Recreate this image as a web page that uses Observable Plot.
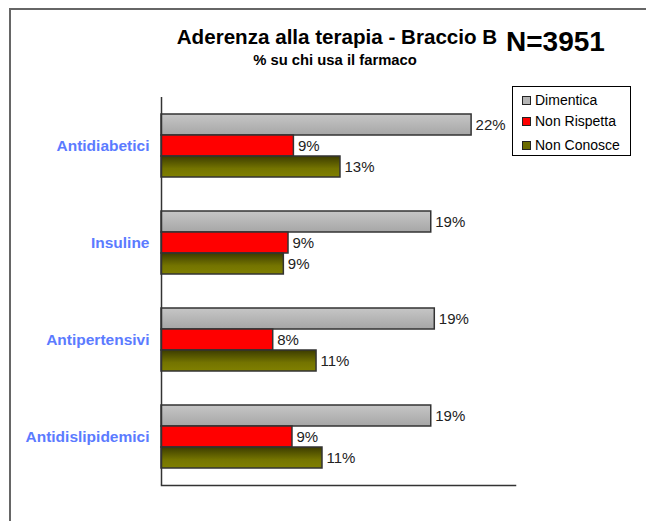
<!DOCTYPE html>
<html>
<head>
<meta charset="utf-8">
<script src="https://cdn.jsdelivr.net/npm/d3@7"></script>
<script src="https://cdn.jsdelivr.net/npm/@observablehq/plot@0.6"></script>
<style>
  html, body { margin: 0; padding: 0; background: #fff; }
  #wrap { position: relative; width: 646px; height: 521px; overflow: hidden; font-family: "Liberation Sans", Arial, sans-serif; }
  #border { position: absolute; left: 9px; top: 8px; width: 700px; height: 600px; border-left: 2px solid #666; border-top: 2px solid #666; }
  .t { position: absolute; white-space: nowrap; color: #000; }
  #title { left: 137px; width: 400px; top: 27.2px; text-align: center; font-size: 20.6px; line-height: 20.6px; font-weight: bold; }
  #subtitle { left: 135px; width: 400px; top: 52.5px; text-align: center; font-size: 14.8px; line-height: 14.8px; font-weight: bold; }
  #n { left: 506px; top: 28.3px; font-size: 28px; line-height: 28px; font-weight: bold; }
  #legend { position: absolute; left: 512px; top: 86px; width: 117px; height: 68px; border: 1px solid #000; background: #fff; }
  .li { position: absolute; left: 22px; font-size: 14px; line-height: 14px; white-space: nowrap; }
  .sw { position: absolute; left: 9px; width: 7px; height: 7px; border: 1px solid #222; }
  #chart { position: absolute; left: 0; top: 0; }
</style>
</head>
<body>
<div id="wrap">
  <div id="border"></div>
  <div id="chart"></div>
  <div class="t" id="title">Aderenza alla terapia - Braccio B</div>
  <div class="t" id="subtitle">% su chi usa il farmaco</div>
  <div class="t" id="n">N=3951</div>
  <div id="legend"></div>
</div>
<script>
const categories = ["Antidiabetici", "Insuline", "Antipertensivi", "Antidislipidemici"];
const series = ["Dimentica", "Non Rispetta", "Non Conosce"];
const dimentica = [21.9, 19.05, 19.3, 19.05];
const nonRispetta = [9.35, 8.97, 7.89, 9.25];
const nonConosce = [12.64, 8.64, 10.95, 11.37];

const seriesValues = [dimentica, nonRispetta, nonConosce];
const data = [];
categories.forEach((cat, i) => {
  series.forEach((s, j) => {
    data.push({cat, series: s, value: seriesValues[j][i]});
  });
});

const fills = ["url(#gGray)", "#ff0000", "url(#gOlive)"];
const swatches = ["#b4b4b4", "#ff0000", "#6b6b00"];

const chart = Plot.plot({
  width: 646,
  height: 521,
  marginLeft: 161,
  marginRight: 131,
  marginTop: 96,
  marginBottom: 36,
  style: {fontFamily: "'Liberation Sans', Arial, sans-serif", background: "transparent", overflow: "visible"},
  x: {domain: [0, 25], axis: null},
  y: {domain: series, paddingInner: 0, paddingOuter: 0.76, axis: null},
  fy: {domain: categories, padding: 0, label: null},
  color: {domain: series, range: fills},
  marks: [
    Plot.axisFy({anchor: "left", tickSize: 0, tickPadding: 12, fontSize: 15.5, fontWeight: "bold", fill: "#5b7bff", label: null}),
    Plot.barX(data, {fy: "cat", y: "series", x: "value", fill: "series", stroke: "#333", strokeWidth: 1.5}),
    Plot.text(data, {fy: "cat", y: "series", x: "value", text: d => Math.round(d.value) + "%", textAnchor: "start", dx: 4, fontSize: 15, fill: "#222"}),
    Plot.ruleX([0], {stroke: "#333", strokeWidth: 1.5}),
    Plot.frame({anchor: "bottom", facetAnchor: "bottom", stroke: "#333", strokeWidth: 1.5})
  ]
});

d3.select(chart).insert("defs", ":first-child").html(`
  <linearGradient id="gGray" x1="0" y1="0" x2="0" y2="1">
    <stop offset="0" stop-color="#c6c6c6"/>
    <stop offset="1" stop-color="#a6a6a6"/>
  </linearGradient>
  <linearGradient id="gOlive" x1="0" y1="0" x2="0" y2="1">
    <stop offset="0" stop-color="#3c3c00"/>
    <stop offset="0.6" stop-color="#747400"/>
    <stop offset="1" stop-color="#808000"/>
  </linearGradient>`);
document.getElementById("chart").appendChild(chart);

const legend = document.getElementById("legend");
const tops = [5.5, 27, 50.5];
series.forEach((s, j) => {
  const sw = document.createElement("div");
  sw.className = "sw";
  sw.style.top = (tops[j] + 3) + "px";
  sw.style.background = swatches[j];
  legend.appendChild(sw);
  const li = document.createElement("div");
  li.className = "li";
  li.style.top = tops[j] + "px";
  li.textContent = s;
  legend.appendChild(li);
});
</script>
</body>
</html>
